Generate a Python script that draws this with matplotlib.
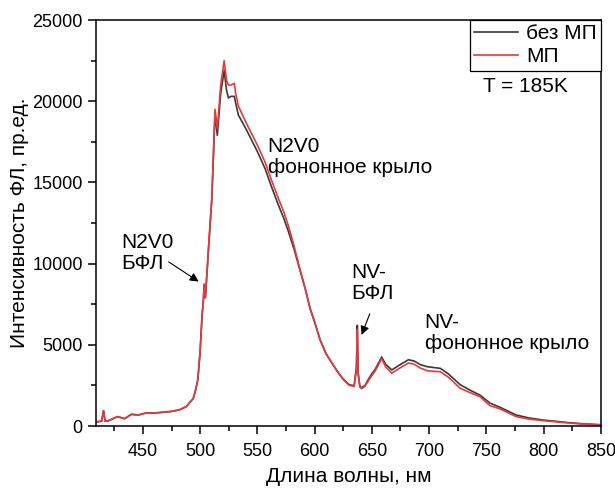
import matplotlib
matplotlib.use("Agg")
import matplotlib.pyplot as plt
from matplotlib.ticker import MultipleLocator

plt.rcParams['font.family'] = ['Liberation Sans', 'DejaVu Sans']

# wavelength, nm
wl = [409, 412, 414, 415.6, 417, 420, 428, 434, 440, 446, 452, 460, 474, 482,
      488, 494, 496, 498, 500, 501.7, 502.9, 503.5, 504.6, 507.3, 510.2, 512,
      513, 515, 518, 521, 523, 524.7, 527, 529.9, 531, 533.4, 540, 545, 550,
      556.7, 562, 568.4, 573, 577, 582, 587, 592, 596, 600, 604.7, 610, 616.3,
      620, 625, 630, 634.5, 636.5, 637.3, 638, 639.5, 641.1, 644, 648.4, 653,
      658.6, 662, 667.4, 674, 681.9, 687, 692.3, 698.6, 709.8, 717, 727, 736,
      744.5, 753, 762, 776, 787, 799.5, 812, 823, 835, 850]

# без МП (black)
no_field = [250, 280, 300, 950, 300, 330, 580, 450, 720, 680, 790, 800, 890, 1000,
            1200, 1700, 2200, 2850, 4600, 6800, 7800, 8700, 7900, 10900, 14000, 17300,
            19300, 17900, 20500, 21900, 20700, 20200, 20300, 20300, 19900, 19150, 18300, 17600, 16900,
            15850, 14800, 13600, 12800, 12000, 10900, 9650, 8400, 7250, 6400, 5320, 4450, 3750,
            3350, 2880, 2550, 2480, 3600, 6200, 3300, 2450, 2350, 2500, 3050, 3500,
            4250, 3800, 3450, 3750, 4080, 4000, 3780, 3650, 3550, 3200, 2550, 2200,
            1900, 1420, 1150, 680, 500, 370, 280, 200, 130, 80]

# МП (red)
field = [250, 280, 300, 950, 300, 330, 580, 450, 720, 680, 790, 800, 890, 1000,
         1200, 1700, 2200, 2850, 4600, 6800, 7800, 8750, 7900, 10900, 14000, 17500,
         19500, 18300, 21000, 22500, 21300, 21000, 21000, 21100, 20500, 19700, 18700, 18000, 17300,
         16250, 15200, 14000, 13200, 12350, 11100, 9700, 8400, 7250, 6400, 5320, 4450, 3750,
         3350, 2880, 2520, 2430, 3450, 5950, 3200, 2400, 2300, 2450, 2950, 3400,
         4150, 3650, 3250, 3550, 3880, 3800, 3570, 3400, 3340, 3000, 2330, 2050,
         1800, 1260, 1050, 580, 430, 330, 250, 180, 120, 70]

fig = plt.figure(figsize=(6.15, 4.88), dpi=100)
ax = fig.add_axes([0.156, 0.127, 0.821, 0.832])

ax.plot(wl, no_field, color='#3a3a3a', lw=1.2, label='без МП')
ax.plot(wl, field, color='#e8383c', lw=1.2, label='МП')

ax.set_xlim(409, 850)
ax.set_ylim(0, 25000)
ax.xaxis.set_major_locator(MultipleLocator(50))
ax.xaxis.set_minor_locator(MultipleLocator(25))
ax.yaxis.set_major_locator(MultipleLocator(5000))
ax.yaxis.set_minor_locator(MultipleLocator(2500))
ax.tick_params(which='major', direction='out', length=6, width=1.1, labelsize=13)
ax.tick_params(axis='x', which='major', pad=6)
ax.tick_params(which='minor', direction='out', length=3.5, width=1.1)
for s in ax.spines.values():
    s.set_linewidth(1.1)

ax.set_xlabel('Длина волны, нм', fontsize=15, labelpad=5)
ax.set_ylabel('Интенсивность ФЛ, пр.ед.', fontsize=15, labelpad=2)

fs = 15
ax.text(431, 11900, 'N2V0\nБФЛ', fontsize=fs, va='top', ha='left', linespacing=1.15)
ax.annotate('', xy=(500.8, 8800), xytext=(470.5, 10200),
            arrowprops=dict(arrowstyle='-|>', color='black', lw=0.8, mutation_scale=13))
ax.text(559, 17800, 'N2V0\nфононное крыло', fontsize=fs, va='top', ha='left', linespacing=1.15)
ax.text(632.4, 10050, 'NV-\nБФЛ', fontsize=fs, va='top', ha='left', linespacing=1.15)
ax.annotate('', xy=(640.2, 5450), xytext=(649, 7070),
            arrowprops=dict(arrowstyle='-|>', color='black', lw=0.8, mutation_scale=13))
ax.text(696, 6950, 'NV-\nфононное крыло', fontsize=fs, va='top', ha='left', linespacing=1.15)

leg = ax.legend(loc='upper right', borderaxespad=0, fontsize=fs, fancybox=False,
                edgecolor='black', handlelength=2.1, handletextpad=0.4,
                labelspacing=0.2, borderpad=0.2, framealpha=1)
leg.get_frame().set_linewidth(0.9)
ax.text(0.85, 0.837, 'T = 185K', transform=ax.transAxes, fontsize=fs,
        ha='center', va='center')

fig.savefig('out.png', dpi=100)
